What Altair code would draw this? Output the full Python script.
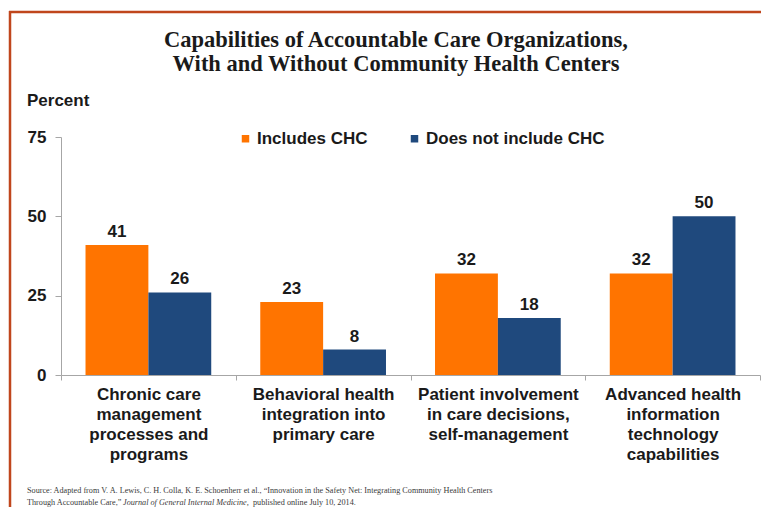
import altair as alt
import pandas as pd

# ---------------- data ----------------
categories = [
    "Chronic care|management|processes and|programs",
    "Behavioral health|integration into|primary care",
    "Patient involvement|in care decisions,|self-management",
    "Advanced health|information|technology|capabilities",
]
series = ["Includes CHC", "Does not include CHC"]
includes_chc = [41, 23, 32, 32]
not_includes_chc = [26, 8, 18, 50]
colors = ["#FF7400", "#1F497D"]
y_ticks = [0, 25, 50, 75]

title_lines = [
    "Capabilities of Accountable Care Organizations,",
    "With and Without Community Health Centers",
]
source_line1 = ("Source: Adapted from V. A. Lewis, C. H. Colla, K. E. Schoenherr et al., "
                "\u201cInnovation in the Safety Net: Integrating  Community Health Centers")
source_line2a = "Through Accountable Care,\u201d"
source_line2b = "Journal of General Internal Medicine,"
source_line2c = "published online July 10, 2014."

rows = []
for c, a, b in zip(categories, includes_chc, not_includes_chc):
    rows.append({"category": c, "series": series[0], "value": a})
    rows.append({"category": c, "series": series[1], "value": b})
df = pd.DataFrame(rows)
one = pd.DataFrame({"k": [0]})

# ---------------- layout ----------------
W, H = 699, 238
OX, OY = 61, 137  # page position of the plot origin


def px(x):
    return x - OX


def py(y):
    return y - OY


SANS = "Liberation Sans"
SERIF = "Liberation Serif"
AXC = "#A6A6A6"
TXT = "#1A1A1A"
FRAME = "#C0461C"
SRC = "#3A3A3A"
SRC_SIZE = 8.2

x_enc = alt.X(
    "category:N",
    sort=categories,
    scale=alt.Scale(paddingInner=0, paddingOuter=0),
    axis=alt.Axis(
        title=None,
        labelAngle=0,
        labelExpr="split(datum.label, '|')",
        tickBand="extent",
        tickSize=5,
        labelPadding=6,
        labelLineHeight=20,
        labelLimit=300,
    ),
)
xo_enc = alt.XOffset("series:N", sort=series,
                     scale=alt.Scale(paddingInner=0, paddingOuter=0.39))
y_enc = alt.Y(
    "value:Q",
    scale=alt.Scale(domain=[0, 75]),
    axis=alt.Axis(values=y_ticks, title=None, grid=False, tickSize=6, labelPadding=9),
)

bars = alt.Chart(df).mark_bar().encode(
    x=x_enc,
    xOffset=xo_enc,
    y=y_enc,
    color=alt.Color(
        "series:N",
        sort=series,
        scale=alt.Scale(domain=series, range=colors),
        legend=alt.Legend(
            title=None,
            orient="none",
            legendX=176,
            legendY=-7,
            direction="horizontal",
            symbolType="square",
            symbolSize=56,
            symbolStrokeWidth=0,
            labelFont=SANS,
            labelFontWeight="bold",
            labelFontSize=17,
            labelColor=TXT,
            labelOffset=3,
            labelLimit=400,
            columnPadding=38,
            padding=0,
        ),
    ),
)

labels = alt.Chart(df).mark_text(
    baseline="alphabetic", dy=-8, font=SANS, fontWeight="bold", fontSize=17, color=TXT
).encode(x=x_enc, xOffset=xo_enc, y=y_enc, text=alt.Text("value:Q"))


def txt(text, x, y, **kw):
    return alt.Chart(one).mark_text(text=text, **kw).encode(
        x=alt.value(px(x)), y=alt.value(py(y))
    )


title = txt(title_lines, 396, 47, font=SERIF, fontWeight="bold", fontSize=22.5,
            lineHeight=23.5, align="center", baseline="alphabetic", color=TXT)
percent = txt("Percent", 27, 106, font=SANS, fontWeight="bold", fontSize=17,
              align="left", baseline="alphabetic", color=TXT)
src1 = txt(source_line1, 27, 493, font=SERIF, fontSize=SRC_SIZE, align="left",
           baseline="alphabetic", color=SRC)
src2a = txt(source_line2a, 27, 505, font=SERIF, fontSize=SRC_SIZE, align="left",
            baseline="alphabetic", color=SRC)
src2b = txt(source_line2b, 123, 505, font=SERIF, fontSize=SRC_SIZE, fontStyle="italic",
            align="left", baseline="alphabetic", color=SRC)
src2c = txt(source_line2c, 253, 505, font=SERIF, fontSize=SRC_SIZE, align="left",
            baseline="alphabetic", color=SRC)

frame_top = alt.Chart(one).mark_rule(color=FRAME, strokeWidth=2.5).encode(
    x=alt.value(px(9)), x2=alt.value(px(769)), y=alt.value(py(12))
)
frame_left = alt.Chart(one).mark_rule(color=FRAME, strokeWidth=2.5).encode(
    x=alt.value(px(10)), y=alt.value(py(11)), y2=alt.value(py(515))
)

chart = (
    alt.layer(frame_top, frame_left, bars, labels, title, percent, src1, src2a, src2b, src2c)
    .properties(width=W, height=H, autosize=alt.AutoSizeParams(type="none"),
                padding={"left": OX - 8, "top": OY - 8, "right": 1, "bottom": 132},
                background="white")
    .configure_view(stroke=None)
    .configure_axis(
        domainColor=AXC, tickColor=AXC, labelFont=SANS, labelFontWeight="bold",
        labelFontSize=17, labelColor=TXT, domainWidth=1, tickWidth=1,
    )
)

chart.save("out.html", embed_options={"renderer": "svg", "actions": False})
